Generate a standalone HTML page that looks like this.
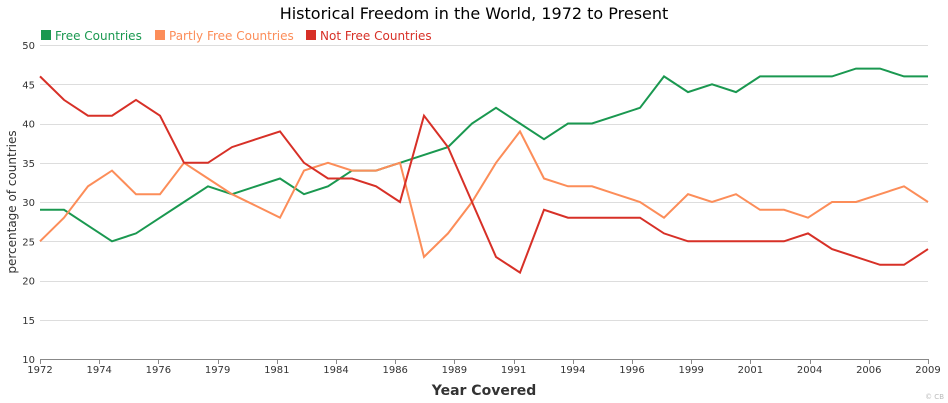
<!DOCTYPE html>
<html><head><meta charset="utf-8"><style>
body{margin:0;background:#fff;}
svg{display:block;font-family:"DejaVu Sans","Liberation Sans",sans-serif;}
</style></head><body>
<svg width="948" height="403" viewBox="0 0 948 403">
<rect width="948" height="403" fill="#fff"/>
<text x="474" y="19" text-anchor="middle" font-size="16" fill="#000">Historical Freedom in the World, 1972 to Present</text>
<rect x="41" y="30" width="10" height="10" fill="#1a9850"/><text x="55" y="40" font-size="12" fill="#1a9850">Free Countries</text>
<rect x="155" y="30" width="10" height="10" fill="#fc8d59"/><text x="169" y="40" font-size="12" fill="#fc8d59">Partly Free Countries</text>
<rect x="306" y="30" width="10" height="10" fill="#d73027"/><text x="320" y="40" font-size="12" fill="#d73027">Not Free Countries</text>
<g id="grid" stroke="#ddd" stroke-width="1"></g>
<g id="yl" font-size="10" fill="#333" text-anchor="end"></g>
<g id="xl" font-size="10" fill="#333" text-anchor="middle"></g>
<line x1="40" y1="359.5" x2="928" y2="359.5" stroke="#888"/>
<text transform="translate(16,202) rotate(-90)" text-anchor="middle" font-size="12" fill="#333">percentage of countries</text>
<text x="484" y="395" text-anchor="middle" font-size="14" font-weight="bold" fill="#333">Year Covered</text>
<text x="944" y="399" text-anchor="end" font-size="7" fill="#bbb">© CB</text>
<g id="lines" fill="none" stroke-width="2"></g>
</svg>
<script>
var g=document.getElementById('grid'),yl=document.getElementById('yl'),xl=document.getElementById('xl'),L=document.getElementById('lines');
var ns='http://www.w3.org/2000/svg';
function Y(v){return 359-(v-10)*7.85;}
for(var v=10;v<=50;v+=5){var y=Y(v);if(v>10){var l=document.createElementNS(ns,'line');l.setAttribute('x1',40);l.setAttribute('x2',928);l.setAttribute('y1',Math.round(y)+.5);l.setAttribute('y2',Math.round(y)+.5);g.appendChild(l);}
var t=document.createElementNS(ns,'text');t.setAttribute('x',35);t.setAttribute('y',y+4);t.textContent=v;yl.appendChild(t);}
var yrs=[1972,1974,1976,1979,1981,1984,1986,1989,1991,1994,1996,1999,2001,2004,2006,2009];
yrs.forEach(function(yr,i){var x=40+i*888/15;var t=document.createElementNS(ns,'text');t.setAttribute('x',x);t.setAttribute('y',373);t.textContent=yr;xl.appendChild(t);
var l=document.createElementNS(ns,'line');l.setAttribute('x1',Math.round(x)+.5);l.setAttribute('x2',Math.round(x)+.5);l.setAttribute('y1',359);l.setAttribute('y2',364);l.setAttribute('stroke','#888');xl.appendChild(l);});
var D={
'#1a9850':[29,29,27,25,26,28,30,32,31,32,33,31,32,34,34,35,36,37,40,42,40,38,40,40,41,42,46,44,45,44,46,46,46,46,47,47,46,46],
'#fc8d59':[25,28,32,34,31,31,35,33,31,29.5,28,34,35,34,34,35,23,26,30,35,39,33,32,32,31,30,28,31,30,31,29,29,28,30,30,31,32,30],
'#d73027':[46,43,41,41,43,41,35,35,37,38,39,35,33,33,32,30,41,37,30,23,21,29,28,28,28,28,26,25,25,25,25,25,26,24,23,22,22,24]};
for(var c in D){var p=D[c].map(function(v,k){return (40+k*24)+','+Y(v).toFixed(1);}).join(' ');
var pl=document.createElementNS(ns,'polyline');pl.setAttribute('points',p);pl.setAttribute('stroke',c);L.appendChild(pl);}
</script>
</body></html>
